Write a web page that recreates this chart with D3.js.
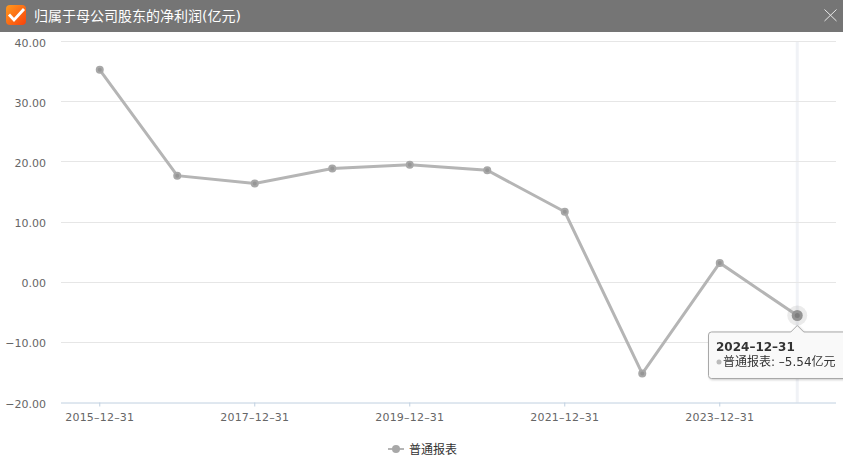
<!DOCTYPE html>
<html>
<head>
<meta charset="utf-8">
<script src="https://cdn.jsdelivr.net/npm/d3@7"></script>
<style>
  html, body { margin: 0; padding: 0; background: #fff; overflow: hidden; }
  svg { display: block; font-family: "DejaVu Sans", "Noto Sans CJK SC", sans-serif; }
  .tick-label { font-size: 11px; fill: #666; }
</style>
</head>
<body>
<svg id="chart"></svg>
<script>
const titleText = '归属于母公司股东的净利润(亿元)';
const seriesName = '普通报表';
const dates = ['2015-12-31', '2016-12-31', '2017-12-31', '2018-12-31', '2019-12-31',
  '2020-12-31', '2021-12-31', '2022-12-31', '2023-12-31', '2024-12-31'];
const profit = [35.3, 17.7, 16.4, 18.9, 19.5, 18.6, 11.7, -15.2, 3.2, -5.54];
const yTicks = [-20, -10, 0, 10, 20, 30, 40];
const xTickDates = ['2015-12-31', '2017-12-31', '2019-12-31', '2021-12-31', '2023-12-31'];
const hoverDate = '2024-12-31';

const width = 843, height = 471;
const margin = { top: 41.5, right: 7, bottom: 68.5, left: 61 };

const svg = d3.select('#chart').attr('width', width).attr('height', height);

// header bar
const defs = svg.append('defs');
const iconGrad = defs.append('linearGradient').attr('id', 'iconGrad')
  .attr('x1', 0).attr('y1', 0).attr('x2', 1).attr('y2', 1);
iconGrad.append('stop').attr('offset', '0%').attr('stop-color', '#ff9a1e');
iconGrad.append('stop').attr('offset', '100%').attr('stop-color', '#f8420c');

svg.append('rect').attr('width', width).attr('height', 32).attr('fill', '#757575');
svg.append('rect').attr('x', 6).attr('y', 5).attr('width', 20).attr('height', 20).attr('rx', 4)
  .attr('fill', 'url(#iconGrad)');
svg.append('path').attr('d', d3.line()([[9, 14.5], [14, 20], [24, 9]]))
  .attr('fill', 'none').attr('stroke', '#fff').attr('stroke-width', 2.8);
svg.append('text').attr('x', 34).attr('y', 21).attr('fill', '#fff').attr('font-size', 14)
  .text(titleText);
svg.append('path').attr('d', 'M824.5 9.5L836.5 21M836.5 9.5L824.5 21')
  .attr('stroke', '#e8e8e8').attr('stroke-width', 1).attr('fill', 'none');

// scales
const x = d3.scaleBand().domain(dates).range([margin.left, width - margin.right]);
const y = d3.scaleLinear().domain([-20, 40]).range([height - margin.bottom, margin.top]);
const px = d => x(d) + x.bandwidth() / 2;

// hover band
svg.append('line').attr('x1', px(hoverDate)).attr('x2', px(hoverDate))
  .attr('y1', y(40)).attr('y2', y(-20))
  .attr('stroke', '#f0f2f6').attr('stroke-width', 3);

// grid
svg.append('g').selectAll('line').data(yTicks.filter(d => d !== -20)).join('line')
  .attr('x1', margin.left).attr('x2', width - margin.right)
  .attr('y1', d => Math.floor(y(d)) + 0.5).attr('y2', d => Math.floor(y(d)) + 0.5)
  .attr('stroke', '#e6e6e6');

// y axis labels
svg.append('g').selectAll('text').data(yTicks).join('text')
  .attr('class', 'tick-label')
  .attr('x', 46).attr('y', d => y(d) + 5)
  .attr('text-anchor', 'end')
  .text(d => d3.format('.2f')(d).replace('-', '–'));

// x axis
const xAxis = d3.axisBottom(x).tickValues(xTickDates).tickSize(4)
  .tickFormat(d => d.replace(/-/g, '–'));
const xAxisG = svg.append('g').attr('transform', `translate(0,${y(-20)})`).call(xAxis)
  .attr('font-family', null).attr('font-size', null);
xAxisG.select('.domain').attr('stroke', '#c0d0e0').attr('d', `M${margin.left},0.5H${width - margin.right}`);
xAxisG.selectAll('.tick line').attr('stroke', '#c0d0e0');
xAxisG.selectAll('.tick text').attr('class', 'tick-label').attr('fill', null)
  .attr('y', 11).attr('dy', '0.71em').style('letter-spacing', '0.2px');

// line and points
const line = d3.line().x((d, i) => px(dates[i])).y(d => y(d));
svg.append('path').datum(profit).attr('d', line)
  .attr('fill', 'none').attr('stroke', '#b5b5b5').attr('stroke-width', 3);

const points = svg.append('g');
points.selectAll('circle.outer').data(profit).join('circle')
  .attr('class', 'outer')
  .attr('cx', (d, i) => px(dates[i])).attr('cy', d => y(d)).attr('r', 4)
  .attr('fill', '#a8a8a8');
points.selectAll('circle.inner').data(profit).join('circle')
  .attr('class', 'inner')
  .attr('cx', (d, i) => px(dates[i])).attr('cy', d => y(d)).attr('r', 2)
  .attr('fill', '#969696');

// hovered point
const hoverVal = profit[dates.indexOf(hoverDate)];
svg.append('circle').attr('cx', px(hoverDate)).attr('cy', y(hoverVal)).attr('r', 10)
  .attr('fill', '#999').attr('fill-opacity', 0.2);
svg.append('circle').attr('cx', px(hoverDate)).attr('cy', y(hoverVal)).attr('r', 5.5)
  .attr('fill', '#949494');
svg.append('circle').attr('cx', px(hoverDate)).attr('cy', y(hoverVal)).attr('r', 2.5)
  .attr('fill', '#7d7d7d');

// tooltip
const tipX = px(hoverDate), tipTop = y(hoverVal) + 16.5, tipBottom = tipTop + 46.5;
const tip = svg.append('g').style('filter', 'drop-shadow(1px 1px 1px rgba(0,0,0,0.2))');
tip.append('path')
  .attr('d', `M711.5 ${tipTop}H${tipX - 6.5}L${tipX} ${tipTop - 6.5}L${tipX + 6.5} ${tipTop}H${width + 5}V${tipBottom}H711.5`
    + `Q708.5 ${tipBottom} 708.5 ${tipBottom - 3}V${tipTop + 3}Q708.5 ${tipTop} 711.5 ${tipTop}Z`)
  .attr('fill', '#f9f9f9').attr('stroke', '#a8a8a8').attr('stroke-width', 1);
tip.append('text').attr('x', 716).attr('y', tipTop + 19.5).attr('font-size', 12).attr('font-weight', 'bold')
  .attr('fill', '#333').text(hoverDate.replace(/-/g, '–'));
tip.append('circle').attr('cx', 719).attr('cy', tipTop + 30).attr('r', 2.5).attr('fill', '#bbb');
tip.append('text').attr('x', 723).attr('y', tipTop + 34.5).attr('font-size', 12)
  .attr('fill', '#333').text(`${seriesName}: –${Math.abs(hoverVal).toFixed(2)}亿元`);

// legend
const legend = svg.append('g');
legend.append('line').attr('x1', 388).attr('x2', 404).attr('y1', 449).attr('y2', 449)
  .attr('stroke', '#b5b5b5').attr('stroke-width', 2);
legend.append('circle').attr('cx', 396).attr('cy', 449).attr('r', 4).attr('fill', '#a8a8a8');
legend.append('text').attr('x', 409).attr('y', 453.5).attr('font-size', 12).attr('fill', '#333')
  .text(seriesName);
</script>
</body>
</html>
